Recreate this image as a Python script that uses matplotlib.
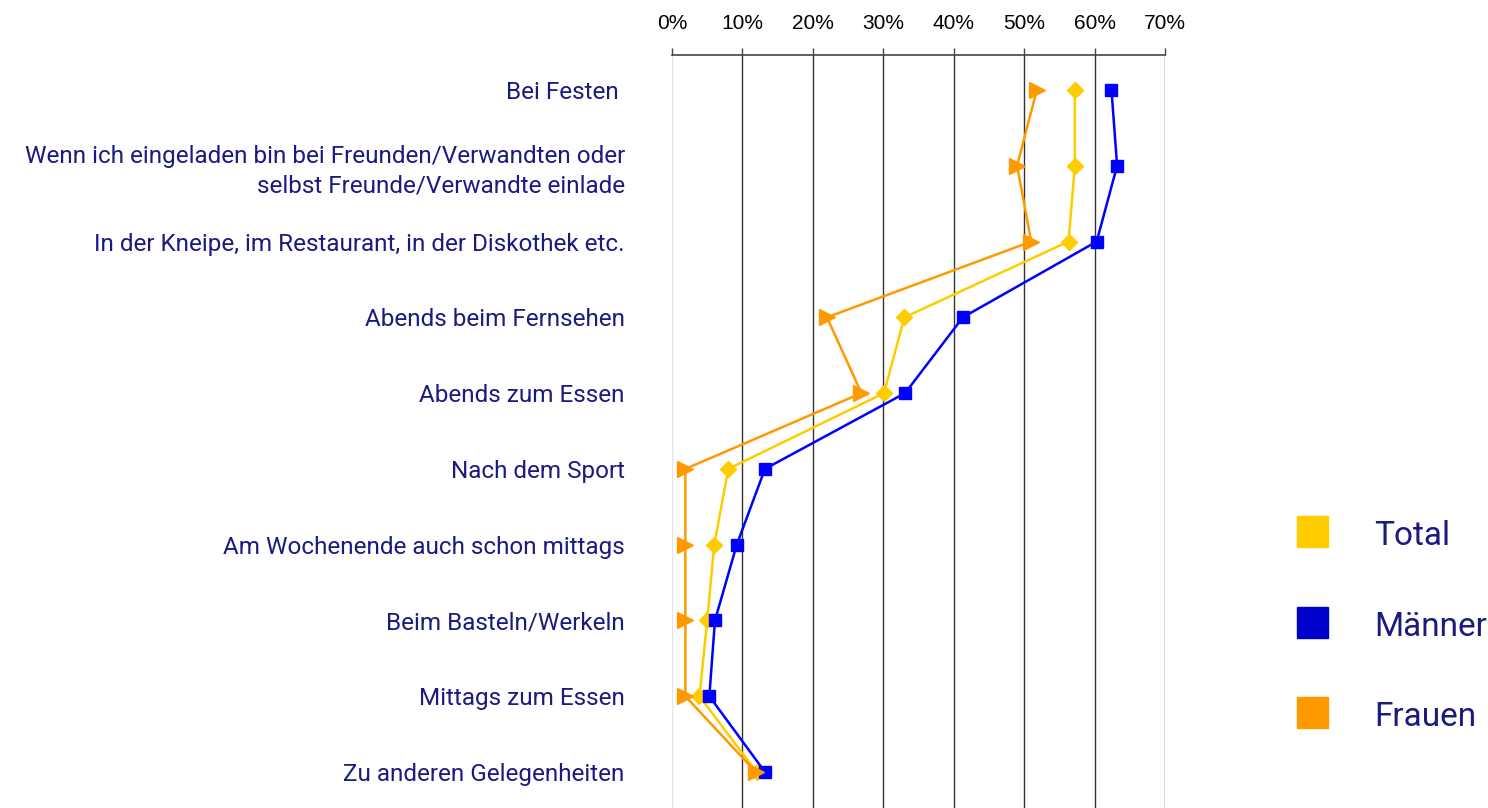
import matplotlib
matplotlib.use("Agg")
import matplotlib.pyplot as plt
from matplotlib.patches import Rectangle

categories = ["Bei Festen ",
              "Wenn ich eingeladen bin bei Freunden/Verwandten oder\nselbst Freunde/Verwandte einlade",
              "In der Kneipe, im Restaurant, in der Diskothek etc.",
              "Abends beim Fernsehen",
              "Abends zum Essen",
              "Nach dem Sport",
              "Am Wochenende auch schon mittags",
              "Beim Basteln/Werkeln",
              "Mittags zum Essen",
              "Zu anderen Gelegenheiten"]
total = [57.2, 57.2, 56.3, 33.0, 30.1, 8.0, 6.0, 5.0, 3.9, 12.0]
maenner = [62.4, 63.2, 60.3, 41.3, 33.1, 13.2, 9.2, 6.1, 5.3, 13.2]
frauen = [51.8, 49.0, 51.0, 22.0, 26.9, 1.9, 1.9, 1.9, 1.9, 11.9]
xticks = [0, 10, 20, 30, 40, 50, 60, 70]

navy = "#1a1a80"
lab_font = ["Roboto", "DejaVu Sans"]

fig = plt.figure(figsize=(14.88, 8.08), dpi=100)
ax = fig.add_axes([672 / 1488, 0, 493 / 1488, 1 - 55 / 808])

y = list(range(len(categories)))
ax.plot(total, y, color="#FFCC00", lw=1.8, marker="D", ms=8, zorder=3)
ax.plot(maenner, y, color="#0000FF", lw=1.8, marker="s", ms=9, zorder=4)
ax.plot(frauen, y, color="#FF9900", lw=1.8, marker=">", ms=12, zorder=5)

ax.set_xlim(0, 70)
ax.set_ylim(9 + 36 / 75.8, -35 / 75.8)

for v in xticks[1:]:
    ax.axvline(v, color="#333333", lw=1, zorder=1)
ax.axvline(0, color="#e6e6e6", lw=1, zorder=1)

ax.xaxis.tick_top()
ax.set_xticks(xticks)
ax.set_xticklabels([f"{v}%" for v in xticks], family=["Liberation Sans", "DejaVu Sans"], fontsize=15)
ax.tick_params(axis="x", direction="out", length=5, width=1, color="#444444", pad=11)

ax.set_yticks(y)
ax.set_yticklabels(categories, family=lab_font, fontsize=17.5, color=navy, linespacing=1.35)
ax.tick_params(axis="y", length=0, pad=34)

for s in ["left", "right", "bottom"]:
    ax.spines[s].set_visible(False)
ax.spines["top"].set_color("#444444")
ax.spines["top"].set_linewidth(1.2)
ax.patch.set_alpha(0)

# legend
leg = [("Total", "#FFCC00", 532), ("Männer", "#0000CC", 623), ("Frauen", "#FF9900", 713)]
for name, col, yc in leg:
    fig.patches.append(Rectangle((1297 / 1488, 1 - (yc + 15) / 808), 31 / 1488, 31 / 808,
                                 transform=fig.transFigure, color=col))
    fig.text(1374 / 1488, 1 - (yc + 4) / 808, name, color=navy, fontsize=24,
             family=lab_font, va="center", ha="left")

fig.savefig("out.png", dpi=100)
